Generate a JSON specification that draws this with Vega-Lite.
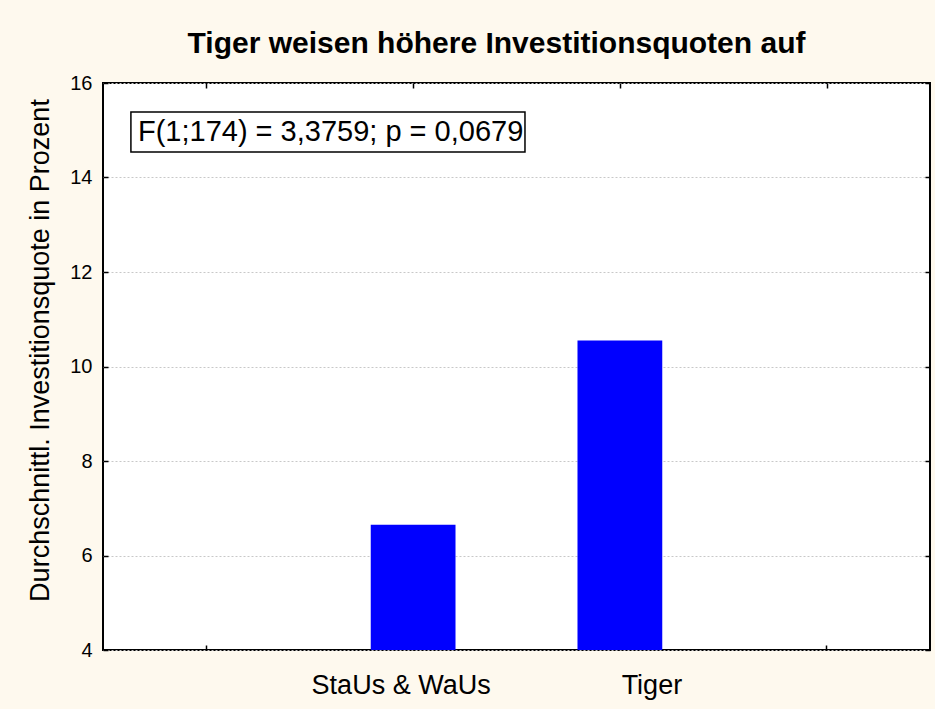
{
  "$schema": "https://vega.github.io/schema/vega-lite/v6.json",
  "width": 827,
  "height": 567,
  "autosize": "none",
  "padding": {"left": 103, "top": 83, "right": 5, "bottom": 59},
  "background": "#FEF9EE",
  "config": {
    "view": {"stroke": "#000000", "strokeWidth": 2, "fill": "#FFFFFF"},
    "font": "Liberation Sans"
  },
  "title": {
    "text": "Tiger weisen höhere Investitionsquoten auf",
    "font": "Liberation Sans",
    "fontSize": 30,
    "fontWeight": "bold",
    "anchor": "middle",
    "dx": -20,
    "offset": -10,
    "baseline": "alphabetic",
    "color": "#000000"
  },
  "datasets": {
    "bars": [
      {"gruppe": "StaUs & WaUs", "quote": 6.65},
      {"gruppe": "Tiger", "quote": 10.55}
    ],
    "note": [
      {"text": "F(1;174) = 3,3759; p = 0,0679", "x0": 0.135, "x1": 2.041, "y0": 14.54, "y1": 15.386, "tx": 0.169, "ty": 14.963}
    ]
  },
  "layer": [
    {
      "data": {"name": "bars"},
      "mark": {"type": "bar", "color": "#0000FF"},
      "encoding": {
        "x": {
          "field": "gruppe",
          "type": "nominal",
          "sort": null,
          "scale": {"domain": ["l", "StaUs & WaUs", "Tiger", "r"], "paddingInner": 0.59, "paddingOuter": 0.295},
          "axis": {
            "orient": "bottom",
            "title": null,
            "domain": false,
            "grid": false,
            "tickSize": -5,
            "tickColor": "#000000",
            "tickWidth": 1.5,
            "labelExpr": "datum.value === 'l' || datum.value === 'r' ? '' : datum.value",
            "labelFontSize": 27,
            "labelColor": "#000000",
            "labelFont": "Liberation Sans",
            "labelPadding": 48,
            "labelBaseline": "alphabetic",
            "labelAngle": 0,
            "labelOffset": {"expr": "datum.value === 'Tiger' ? 32 : -12"}
          }
        },
        "y": {
          "field": "quote",
          "type": "quantitative",
          "scale": {"domain": [4, 16], "nice": false, "zero": false},
          "axis": {
            "orient": "left",
            "values": [4, 6, 8, 10, 12, 14, 16],
            "title": "Durchschnittl. Investitionsquote in Prozent",
            "titleFont": "Liberation Sans",
            "titleFontSize": 27,
            "titleFontWeight": "normal",
            "titleColor": "#000000",
            "titleX": -63,
            "titleY": 267,
            "titleAngle": -90,
            "titleBaseline": "middle",
            "titleAlign": "center",
            "labelFontSize": 20,
            "labelColor": "#000000",
            "labelFont": "Liberation Sans",
            "labelPadding": 16,
            "tickSize": -5,
            "tickColor": "#000000",
            "tickWidth": 1.5,
            "domain": false,
            "grid": true,
            "gridColor": "#C8C8C8",
            "gridDash": [2, 2],
            "gridWidth": 1
          }
        },
        "y2": {"datum": 4}
      }
    },
    {
      "data": {"name": "note"},
      "mark": {"type": "rect", "fill": "#FFFFFF", "stroke": "#000000", "strokeWidth": 1.5},
      "encoding": {
        "x": {
          "field": "x0",
          "type": "quantitative",
          "scale": {"domain": [0, 4], "nice": false, "zero": false},
          "axis": {
            "orient": "top",
            "title": null,
            "values": [0.5, 1.5, 2.5, 3.5],
            "labels": false,
            "domain": false,
            "grid": false,
            "tickSize": -5,
            "tickColor": "#000000",
            "tickWidth": 1.5
          }
        },
        "x2": {"field": "x1"},
        "y": {
          "field": "y0",
          "type": "quantitative",
          "axis": {
            "orient": "right",
            "title": null,
            "values": [4, 6, 8, 10, 12, 14, 16],
            "labels": false,
            "domain": false,
            "grid": false,
            "tickSize": -5,
            "tickColor": "#000000",
            "tickWidth": 1.5
          }
        },
        "y2": {"field": "y1"}
      }
    },
    {
      "data": {"name": "note"},
      "mark": {"type": "text", "align": "left", "baseline": "middle", "fontSize": 29, "font": "Liberation Sans", "color": "#000000"},
      "encoding": {
        "x": {"field": "tx", "type": "quantitative", "scale": {"domain": [0, 4], "nice": false, "zero": false}, "axis": null},
        "y": {"field": "ty", "type": "quantitative", "axis": null},
        "text": {"field": "text"}
      }
    }
  ],
  "resolve": {"scale": {"x": "independent"}, "axis": {"y": "independent"}}
}
